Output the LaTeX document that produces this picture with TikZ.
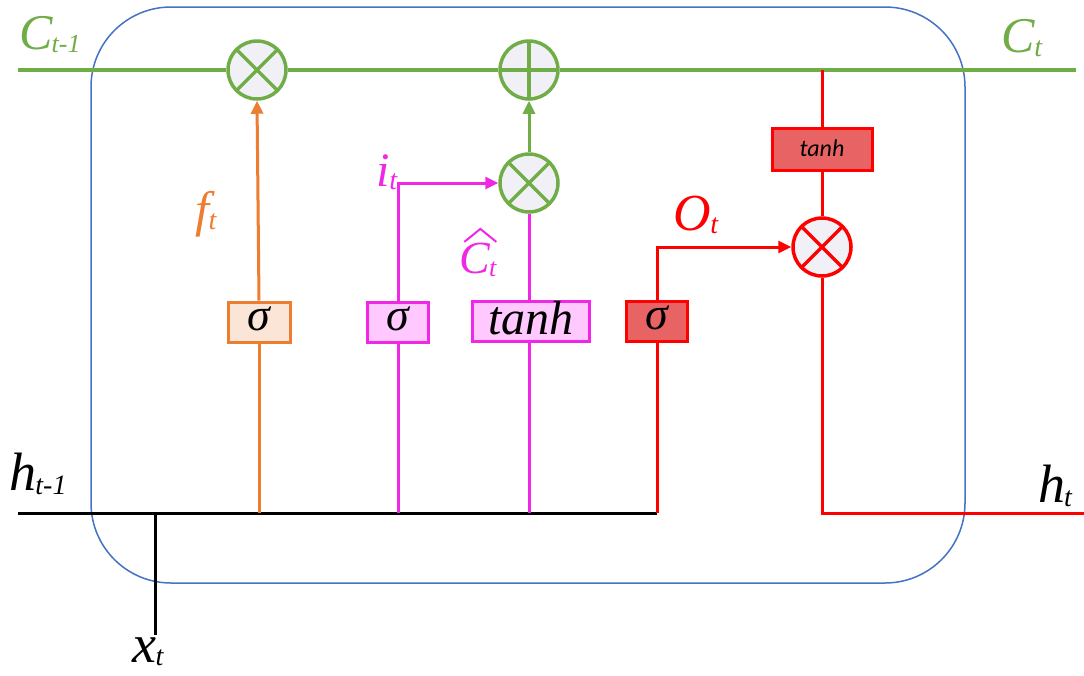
\documentclass[tikz,border=0pt]{standalone}
\usepackage{fontspec}
\setmainfont{Liberation Serif}
\newfontfamily\tms{Liberation Serif}
\newfontfamily\carl{Carlito}
\usetikzlibrary{arrows.meta}
\definecolor{lgreen}{RGB}{112,173,71}
\definecolor{lblue}{RGB}{68,114,196}
\definecolor{lorange}{RGB}{237,125,49}
\definecolor{lorangef}{RGB}{251,229,214}
\definecolor{lmag}{RGB}{240,40,230}
\definecolor{lmagf}{RGB}{255,200,255}
\definecolor{lred}{RGB}{255,0,0}
\definecolor{lredf}{RGB}{232,100,100}
\definecolor{lcirc}{RGB}{240,240,246}
\newcommand{\mylab}[4]{{\tms\fontsize{#3}{#3}\selectfont\itshape #1}\kern-1pt{\tms\fontsize{#4}{#4}\selectfont\itshape\raisebox{-0.12em}{#2}}}
\newcommand{\sig}{{\tms\fontsize{46}{46}\selectfont\itshape σ}}
\tikzset{
  mult/.style={circle, draw=#1, line width=3.5pt, fill=lcirc, minimum size=58pt, inner sep=0pt,
    path picture={\draw[#1, line width=3.5pt] (path picture bounding box.north west)--(path picture bounding box.south east) (path picture bounding box.north east)--(path picture bounding box.south west);}},
  addc/.style={circle, draw=#1, line width=3.5pt, fill=lcirc, minimum size=58pt, inner sep=0pt,
    path picture={\draw[#1, line width=3.5pt] (path picture bounding box.north)--(path picture bounding box.south) (path picture bounding box.east)--(path picture bounding box.west);}},
  gate/.style={draw=#1, line width=3pt, minimum height=40pt, inner sep=0pt, text height=16pt, text depth=0pt},
  wire/.style={line width=3pt},
  tip/.style={-{Triangle[length=13pt,width=12pt]}},
  lab/.style={inner sep=0pt}
}
\begin{document}
\begin{tikzpicture}[x=1pt,y=-1pt]
\useasboundingbox (0,0) rectangle (1084,675);
\fill[white] (0,0) rectangle (1084,675);
\draw[lblue, line width=1.5pt, rounded corners=80pt] (91,7) rectangle (965,583);

% coordinates
\coordinate (Cin) at (18,70);
\coordinate (Cout) at (1076,70);
\coordinate (cbr) at (822,70);
\coordinate (hin) at (18,513);
\coordinate (hend) at (657,513);
\coordinate (xb) at (155,635);
\coordinate (xj) at (155,513);
\coordinate (fo) at (259,513);
\coordinate (io) at (398,513);
\coordinate (ctb) at (529,513);
\coordinate (hout) at (1084,513);

% nodes
\node[mult=lgreen] (m1) at (257,70) {};
\node[addc=lgreen] (plus) at (529,70) {};
\node[mult=lgreen] (m2) at (529,183) {};
\node[mult=lred] (m3) at (822,247) {};
\node[gate=lorange, fill=lorangef, minimum width=62pt] (fsig) at (259,322) {\sig};
\node[gate=lmag, fill=lmagf, minimum width=61pt] (isig) at (398,322) {\sig};
\node[gate=lmag, fill=lmagf, minimum width=117pt, text height=26pt] (ctanh) at (531,321) {\tms\fontsize{48}{48}\selectfont\itshape tanh};
\node[gate=lred, fill=lredf, minimum width=61pt] (osig) at (657,321) {\sig};
\node[gate=lred, fill=lredf, minimum width=100pt, minimum height=42pt, text height=14pt, font=\carl\fontsize{24}{24}\selectfont\itshape] (otanh) at (822,149) {tanh};

% wires
\draw[lgreen, line width=4pt] (Cin) -- (m1.west) (m1.east) -- (plus.west) (plus.east) -- (Cout);
\draw[wire] (hin) -- (hend);
\draw[wire] (xb) -- (xj);
\draw[wire, lorange] (fo) -- (fsig.south);
\draw[wire, lorange, tip] (fsig.north) -- (m1.south);
\draw[wire, lmag] (io) -- (isig.south);
\draw[wire, lmag, tip] (isig.north) |- (m2.west);
\draw[wire, lmag] (ctb) -- (ctb |- ctanh.south);
\draw[wire, lmag] (ctb |- ctanh.north) -- (m2.south);
\draw[wire, lgreen, tip] (m2.north) -- (plus.south);
\draw[wire, lred] (hend) -- (osig.south);
\draw[wire, lred, tip] (osig.north) |- (m3.west);
\draw[wire, lred] (cbr) -- (otanh.north);
\draw[wire, lred] (otanh.south) -- (m3.north);
\draw[wire, lred] (m3.south) |- (hout);

% labels
\node[lab, lgreen] (lC0) at (50,35) {\mylab{C}{t-1}{50}{26}};
\node[lab, lgreen] (lC1) at (1022,38) {\mylab{C}{t}{50}{28}};
\node[lab] (lh0) at (38,474) {\mylab{h}{t-1}{54}{28}};
\node[lab] (lh1) at (1055,486) {\mylab{h}{t}{54}{28}};
\node[lab] (lx) at (148,652) {\mylab{x}{t}{54}{28}};
\node[lab, lorange] (lf) at (206,214) {\mylab{f}{t}{50}{28}};
\node[lab, lmag] (li) at (387,172) {\mylab{i}{t}{48}{28}};
\node[lab, lmag] (lch) at (478,260) {\mylab{C}{t}{46}{26}};
\draw[lmag, line width=2pt] ([xshift=5pt,yshift=1pt]lch.north west) -- ([xshift=21pt,yshift=14pt]lch.north west) -- ([xshift=37pt,yshift=1pt]lch.north west);
\node[lab, lred] (lo) at (696,215) {\mylab{O}{t}{52}{28}};
\end{tikzpicture}
\end{document}
